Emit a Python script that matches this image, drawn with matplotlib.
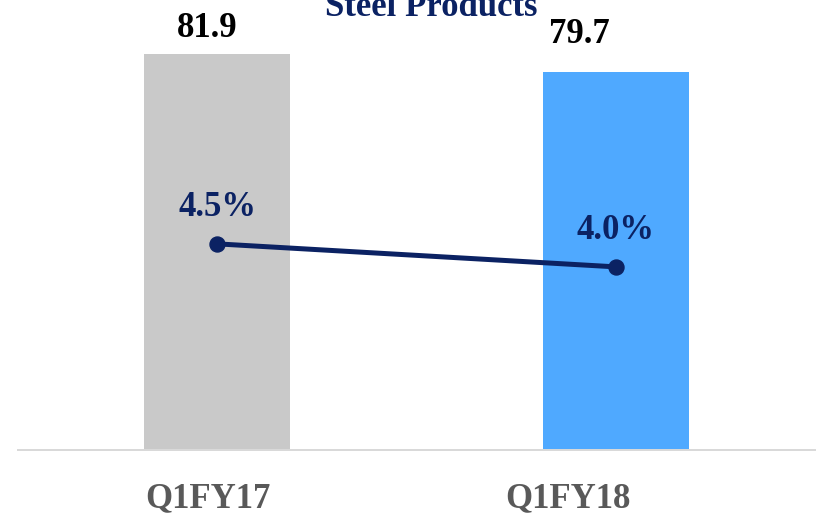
import matplotlib
matplotlib.use('Agg')
import matplotlib.pyplot as plt
import numpy as np

categories = ['Q1FY17', 'Q1FY18']
volumes = [81.9, 79.7]
margins = [4.5, 4.0]
volume_labels = ['81.9', '79.7']
margin_labels = ['4.5%', '4.0%']

BAR_COLORS = ['#C9C9C9', '#4FA9FF']
NAVY = '#0B2263'
FONT = 'Liberation Serif'
PX = 72 / 100.  # pixels -> points

fig = plt.figure(figsize=(8.19, 5.16), dpi=100)
ax = fig.add_axes([18/819, 66/516, 797/819, 450/516])
x = np.arange(len(categories))

ax.bar(x, volumes, width=0.366, color=BAR_COLORS, zorder=2)
ax.set_xlim(-0.5, 1.5)
ax.set_ylim(33.5, 88.5)
for s in ['top', 'left', 'right']:
	ax.spines[s].set_visible(False)
ax.spines['bottom'].set_color('#D9D9D9')
ax.spines['bottom'].set_linewidth(2 * PX)
ax.set_yticks([])
ax.set_xticks([])

# value labels (offsets in pixels)
val_off = [(-10, 17), (-36, 29)]
for i, v in enumerate(volumes):
	ax.annotate(volume_labels[i], (x[i], v), xytext=(val_off[i][0]*PX, val_off[i][1]*PX),
				textcoords='offset points', ha='center', va='baseline',
				fontsize=25, fontweight='bold', family=FONT, color='black')

cat_off = [-9, -48]
for i, c in enumerate(categories):
	ax.annotate(c, (x[i], 0), xycoords=('data', 'axes fraction'),
				xytext=(cat_off[i]*PX, -57*PX), textcoords='offset points',
				ha='center', va='baseline', fontsize=25, fontweight='bold',
				family=FONT, color='#595959', annotation_clip=False)

ax2 = ax.twinx()
ax2.set_ylim(0.02, 9.80)
ax2.plot(x, margins, color=NAVY, lw=5*PX, marker='o', markersize=15*PX, zorder=3)
ax2.axis('off')
for i, m in enumerate(margins):
	ax2.annotate(margin_labels[i], (x[i], m), xytext=(0, 28*PX), textcoords='offset points',
				 ha='center', va='baseline', fontsize=25, fontweight='bold',
				 family=FONT, color=NAVY)

fig.text(431/819, 1 - 16/516, 'Steel Products', ha='center', va='baseline',
		 fontsize=25, fontweight='bold', family=FONT, color=NAVY)

plt.savefig('out.png', dpi=100)
